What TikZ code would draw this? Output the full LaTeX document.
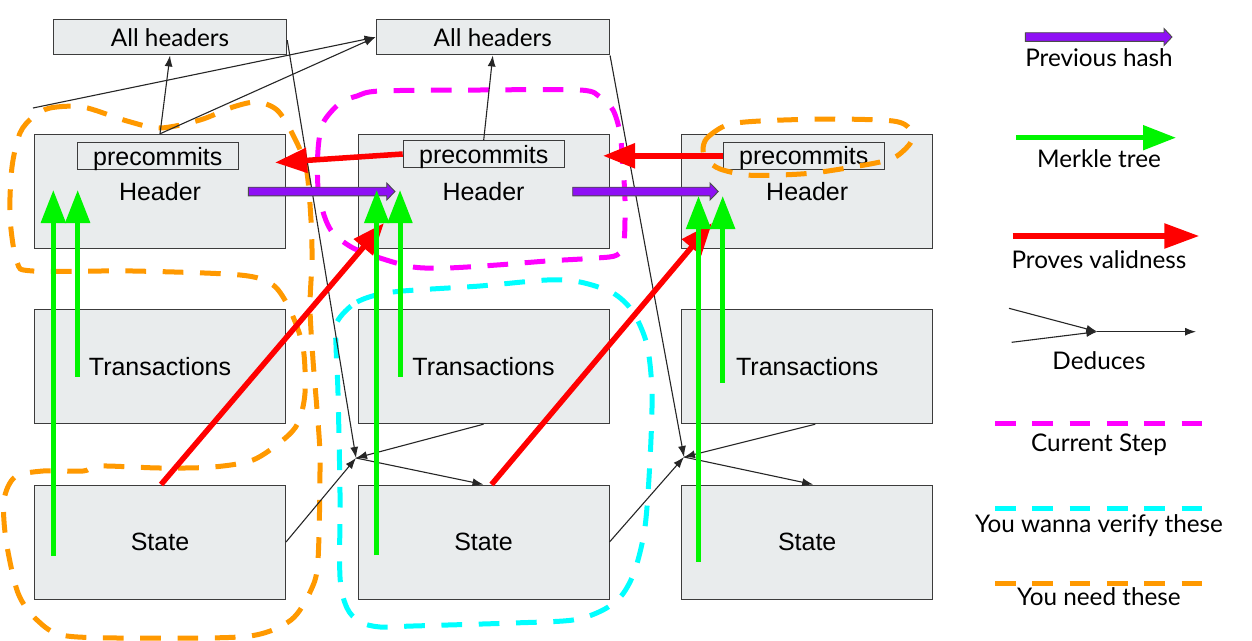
\documentclass[tikz,border=0pt]{standalone}
\usepackage{fontspec}
\setmainfont{Lato}
\newfontfamily\arialf{Liberation Sans}
\usetikzlibrary{arrows.meta,calc}
\definecolor{boxfill}{HTML}{E9ECED}
\definecolor{boxline}{HTML}{3C3C3C}
\definecolor{hashpurple}{HTML}{8F10F5}
\definecolor{merkle}{HTML}{00F500}
\definecolor{valid}{HTML}{FF0000}
\definecolor{curstep}{HTML}{FF00FF}
\definecolor{verify}{HTML}{00FFFF}
\definecolor{need}{HTML}{FF9900}
\newcommand\hasharrow[4]{% x0, x head start, x tip, y
  \draw[hashbody] (#1,#4-4.3) -- (#2,#4-4.3) -- (#2,#4-8.5) -- (#3,#4) -- (#2,#4+8.5) -- (#2,#4+4.3) -- (#1,#4+4.3) -- cycle;}
\begin{document}
\begin{tikzpicture}[x=1pt,y=-1pt,
  box/.style={draw=boxline, fill=boxfill, line width=1pt, inner sep=0pt,
    font=\arialf\fontsize{25}{28}\selectfont},
  bigbox/.style={box, minimum width=251pt, minimum height=114pt},
  ahbox/.style={box, minimum width=233.5pt, minimum height=35.5pt, font=\fontsize{24.3}{28}\selectfont},
  pcbox/.style={box, minimum width=161pt, minimum height=27pt, text depth=0pt},
  mt/.style={draw=merkle, line width=5pt, -{Triangle[length=33pt,width=24pt]}},
  pv/.style={draw=valid, line width=5.5pt, -{Triangle[length=32pt,width=24pt]}},
  ded/.style={draw=black!85, line width=1.1pt, -{Latex[length=11pt,width=8pt]}},
  dsh/.style={line width=5pt, dash pattern=on 20.7pt off 16.6pt},
  hashbody/.style={fill=hashpurple, draw=black!70, line width=0.9pt},
  lg/.style={font=\fontsize{24.3}{28}\selectfont, anchor=base, inner sep=0pt}]
\useasboundingbox (0,0) rectangle (1252,640);
\fill[white] (0,0) rectangle (1252,640);

% boxes
\node[ahbox] (AH1) at (170,37.2) {All headers};
\node[ahbox] (AH2) at (492.8,37.2) {All headers};
\node[bigbox] (H1) at (160,191.3) {Header};
\node[bigbox] (H2) at (483.5,191.3) {Header};
\node[bigbox] (H3) at (807.2,191.3) {Header};
\node[bigbox] (T1) at (160,366.7) {Transactions};
\node[bigbox] (T2) at (483.5,366.7) {Transactions};
\node[bigbox] (T3) at (807.2,366.7) {Transactions};
\node[bigbox] (S1) at (160,542) {State};
\node[bigbox] (S2) at (483.5,542) {State};
\node[bigbox] (S3) at (807.2,542) {State};
\node[pcbox] (P1) at (157.8,156.3) {precommits};
\node[pcbox] (P2) at (483.7,154) {precommits};
\node[pcbox] (P3) at (803.8,155.8) {precommits};

% dashed regions
\draw[dsh, draw=need] plot[smooth cycle, tension=0.5] coordinates {
 (33,117) (50,108) (83,107) (127,121) (160,128) (200,120) (233,107) (257,102) (277,110)
 (292,133) (306,167) (311,220) (312,260) (310,307) (313,360) (317,410) (320,460) (318,560)
 (311,590) (291,620) (250,636) (160,638) (67,636) (37,620) (18,593) (6,540) (4,500) (15,477)
 (43,471) (83,471) (100,466) (160,468) (213,467) (253,460) (283,440) (298,423) (305,393)
 (303,347) (290,310) (273,285) (240,275) (133,271) (33,271) (17,262) (10,217) (12,167) (20,133)};
\draw[dsh, draw=curstep] plot[smooth cycle, tension=0.5] coordinates {
 (340,103) (357,96) (380,91) (480,90) (580,90) (600,97) (613,110) (620,133) (623,167)
 (625,200) (624,242) (617,255) (597,258) (547,261) (497,265) (447,268) (413,267) (380,258)
 (353,248) (333,233) (324,215) (318,187) (318,150) (323,123)};
\draw[dsh, draw=verify] plot[smooth cycle, tension=0.5] coordinates {
 (337,322) (357,302) (393,292) (480,286) (547,280) (580,282) (613,293) (633,312) (647,345)
 (652,393) (650,460) (645,527) (635,570) (622,595) (603,610) (573,620) (513,623) (413,626)
 (380,627) (360,622) (347,608) (340,577) (340,493) (338,393) (336,345)};
\draw[dsh, draw=need] plot[smooth cycle, tension=0.5] coordinates {
 (703,150) (707,138) (727,125) (760,121) (830,119) (893,121) (910,129) (911,142) (897,156)
 (880,162) (847,168) (813,173) (780,175) (747,175) (720,169) (707,160)};

% deduce lines
\coordinate (J1) at (356,458);
\coordinate (J2) at (684,457);
\coordinate (F0) at (33,108);
\draw[ded] ($(AH1.east)+(0,3)$) -- (J1);
\draw[ded] (T2.south) -- (J1);
\draw[ded] (S1.east) -- (J1);
\draw[ded] (J1) -- (S2.north);
\draw[ded] (AH2.south east) -- (J2);
\draw[ded] ($(T3.south)+(8,0)$) -- (J2);
\draw[ded] (S2.east) -- (J2);
\draw[ded] (J2) -- ($(S3.north)+(6,0)$);
\draw[ded] (F0) -- (AH2.west);
\draw[ded] (H1.north) -- (AH1.south);
\draw[ded] (H1.north) -- (AH2.west);
\draw[ded] (P2.north) -- (AH2.south);

% proves validness
\coordinate (R1) at (275,162.5);
\coordinate (R2) at (603,155.8);
\coordinate (R3) at (384,223);
\coordinate (R4) at (712,223);
\draw[pv] (P2.west) -- (R1);
\draw[pv] (P3.west) -- (R2);
\draw[pv] ($(S1.north)+(1,0)$) -- (R3);
\draw[pv] ($(S2.north)+(8,0)$) -- (R4);

% previous hash
\hasharrow{248.3}{386.7}{395}{191.5}
\hasharrow{572.7}{710}{718.3}{191.5}

% merkle trees
\draw[mt] (53.3,555.7) -- (53.3,190);
\draw[mt] (77.7,376.7) -- (77.7,190);
\draw[mt] (376.7,555) -- (376.7,190);
\draw[mt] (400,376.7) -- (400,190);
\draw[mt] (698.5,561.7) -- (698.5,196);
\draw[mt] (722.7,382.7) -- (722.7,196);

% legend
\hasharrow{1025.3}{1164}{1172}{37}
\node[lg] (LPH) at (1099,66) {Previous hash};
\coordinate (LG0) at (1016,137.7);
\coordinate (LG1) at (1176,137.7);
\draw[mt] (LG0) -- (LG1);
\node[lg] (LMT) at (1099,167) {Merkle tree};
\coordinate (LR0) at (1012.7,236);
\coordinate (LR1) at (1199.3,236);
\draw[pv, -{Triangle[length=35pt,width=24pt]}] (LR0) -- (LR1);
\node[lg] (LPV) at (1099,268) {Proves validness};
\coordinate (LD1) at (1009,308.3);
\coordinate (LD2) at (1011.7,342.3);
\coordinate (LDM) at (1097.3,331.7);
\coordinate (LDE) at (1196,331.7);
\draw[ded] (LD1) -- (LDM);
\draw[ded] (LD2) -- (LDM);
\draw[ded] (LDM) -- (LDE);
\node[lg] (LDD) at (1099,369) {Deduces};
\coordinate (LC0) at (995,423.3);
\coordinate (LC1) at (1202,423.3);
\draw[dsh, draw=curstep] (LC0) -- (LC1);
\node[lg] (LCS) at (1099,451) {Current Step};
\coordinate (LV0) at (995,508.3);
\coordinate (LV1) at (1202,508.3);
\draw[dsh, draw=verify] (LV0) -- (LV1);
\node[lg] (LVT) at (1099,532) {You wanna verify these};
\coordinate (LN0) at (995,583.3);
\coordinate (LN1) at (1202,583.3);
\draw[dsh, draw=need] (LN0) -- (LN1);
\node[lg] (LNT) at (1099,605) {You need these};
\end{tikzpicture}
\end{document}
